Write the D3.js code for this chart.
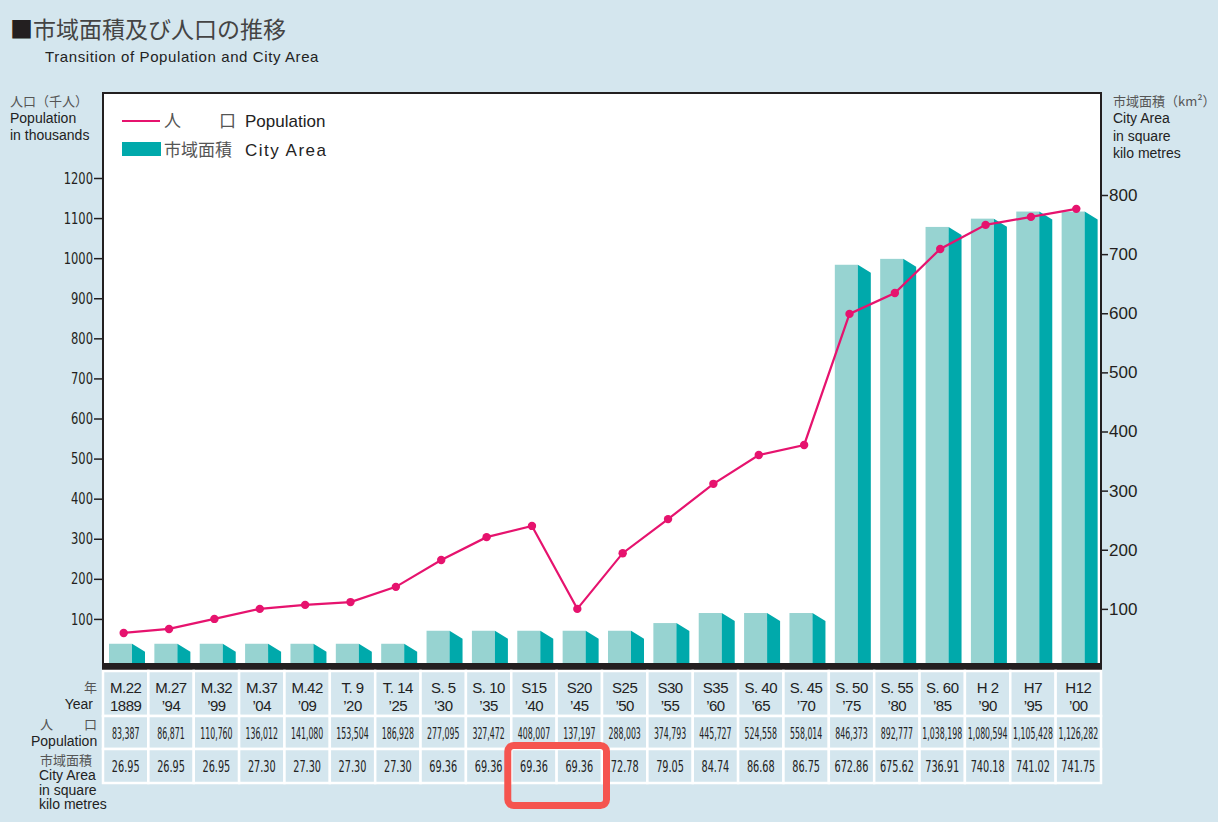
<!DOCTYPE html>
<html lang="ja">
<head>
<meta charset="utf-8">
<title>市域面積及び人口の推移</title>
<script src="https://cdn.jsdelivr.net/npm/d3@7"></script>
<style>
body { margin: 0; background: #d4e6ee; }
svg { display: block; }
.jp { font-family: "Noto Sans CJK JP", sans-serif; fill: #555; }
.en { font-family: "Liberation Sans", Arial, sans-serif; fill: #222; }
.narrow { font-family: "DejaVu Sans Condensed", "DejaVu Sans", sans-serif; fill: #222; }
</style>
</head>
<body>
<script>
// table labels
var eraLabels = ["M.22", "M.27", "M.32", "M.37", "M.42", "T. 9", "T. 14", "S. 5", "S. 10", "S15", "S20",
                 "S25", "S30", "S35", "S. 40", "S. 45", "S. 50", "S. 55", "S. 60", "H 2", "H7", "H12"];
var yearLabels = ["1889", "’94", "’99", "’04", "’09", "’20", "’25", "’30", "’35", "’40", "’45",
                  "’50", "’55", "’60", "’65", "’70", "’75", "’80", "’85", "’90", "’95", "’00"];
var popText = ["83,387", "86,871", "110,760", "136,012", "141,080", "153,504", "186,928", "277,095",
               "327,472", "408,007", "137,197", "288,003", "374,793", "445,727", "524,558", "558,014",
               "846,373", "892,777", "1,038,198", "1,080,594", "1,105,428", "1,126,282"];
var areaText = ["26.95", "26.95", "26.95", "27.30", "27.30", "27.30", "27.30", "69.36", "69.36", "69.36",
                "69.36", "72.78", "79.05", "84.74", "86.68", "86.75", "672.86", "675.62", "736.91",
                "740.18", "741.02", "741.75"];

// values as drawn in the chart
var popPlot = [65, 75, 100, 125, 135, 142, 180, 247, 304, 332, 125, 264, 349, 437, 509, 534,
               861, 913, 1023, 1083, 1103, 1123];
var areaPlot = [41, 41, 41, 41, 41, 41, 41, 63, 63, 63, 63, 63, 76, 93, 93, 93,
                682, 692, 746, 760, 772, 772];

var leftTicks = [100, 200, 300, 400, 500, 600, 700, 800, 900, 1000, 1100, 1200];
var rightTicks = [100, 200, 300, 400, 500, 600, 700, 800];

var width = 1218, height = 822;
var plot = {left: 103, right: 1101, top: 93, bottom: 663};

var svg = d3.select("body").append("svg")
    .attr("width", width)
    .attr("height", height);

svg.append("rect").attr("width", width).attr("height", height).attr("fill", "#d4e6ee");

var x = d3.scaleBand().domain(d3.range(eraLabels.length)).range([plot.left, plot.right]);
var yPop = d3.scaleLinear().domain([0, 1200]).range([659, 178]);
var yArea = d3.scaleLinear().domain([0, 800]).range([668, 195]);

// title
var title = svg.append("text").attr("x", 10).attr("y", 38).attr("class", "jp").style("font-size", "23px");
title.append("tspan").style("fill", "#231f20").text("■");
title.append("tspan").style("fill", "#444").text("市域面積及び人口の推移");
svg.append("text").attr("x", 45).attr("y", 62).attr("class", "en").style("font-size", "15px")
    .style("letter-spacing", "0.6px")
    .text("Transition of Population and City Area");

// axis titles
svg.append("text").attr("x", 10).attr("y", 106).attr("class", "jp").style("font-size", "13px").text("人口（千人）");
svg.append("text").attr("x", 10).attr("y", 123).attr("class", "en").style("font-size", "14px").text("Population");
svg.append("text").attr("x", 10).attr("y", 140).attr("class", "en").style("font-size", "14px").text("in thousands");

svg.append("text").attr("x", 1113).attr("y", 106).attr("class", "jp").style("font-size", "13px").text("市域面積（km²）");
svg.append("text").attr("x", 1113).attr("y", 123).attr("class", "en").style("font-size", "14px").text("City Area");
svg.append("text").attr("x", 1113).attr("y", 141).attr("class", "en").style("font-size", "14px").text("in square");
svg.append("text").attr("x", 1113).attr("y", 158).attr("class", "en").style("font-size", "14px").text("kilo metres");

// plot area
svg.append("rect")
    .attr("x", plot.left).attr("y", plot.top)
    .attr("width", plot.right - plot.left).attr("height", plot.bottom - plot.top + 4)
    .attr("fill", "#fff").attr("stroke", "#231f20").attr("stroke-width", 2);

// bars (front + shaded side)
var bars = svg.append("g");
bars.selectAll("rect.front")
    .data(areaPlot)
  .enter().append("rect")
    .attr("class", "front")
    .attr("x", function(d, i) { return x(i) + 6; })
    .attr("width", 23)
    .attr("y", function(d) { return yArea(d); })
    .attr("height", function(d) { return yArea(0) - yArea(d); })
    .attr("fill", "#97d3d1");
bars.selectAll("polygon.side")
    .data(areaPlot)
  .enter().append("polygon")
    .attr("class", "side")
    .attr("points", function(d, i) {
      var x0 = x(i) + 29, x1 = x(i) + 42, t = yArea(d), b = yArea(0);
      return [[x0, t], [x1, t + 8], [x1, b], [x0, b]].join(" ");
    })
    .attr("fill", "#00a9ab");

// thick base bar
svg.append("rect")
    .attr("x", plot.left - 1).attr("y", plot.bottom)
    .attr("width", plot.right - plot.left + 2).attr("height", 7)
    .attr("fill", "#231f20");

// population line
var line = d3.line()
    .x(function(d, i) { return x(i) + x.bandwidth() / 2 - 2; })
    .y(function(d) { return yPop(d); });
svg.append("path")
    .datum(popPlot)
    .attr("d", line)
    .attr("fill", "none")
    .attr("stroke", "#e6136e")
    .attr("stroke-width", 2.2);
svg.selectAll("circle.pt")
    .data(popPlot)
  .enter().append("circle")
    .attr("class", "pt")
    .attr("cx", function(d, i) { return x(i) + x.bandwidth() / 2 - 2; })
    .attr("cy", function(d) { return yPop(d); })
    .attr("r", 4.2)
    .attr("fill", "#e6136e");

// axes
var gL = svg.append("g")
    .attr("transform", "translate(" + plot.left + ",0)")
    .call(d3.axisLeft(yPop).tickValues(leftTicks).tickFormat(d3.format("d")).tickSize(9).tickPadding(1));
gL.select(".domain").remove();
gL.attr("font-family", "'DejaVu Sans Condensed', sans-serif")
  .attr("font-size", 16).attr("color", "#231f20");
gL.selectAll("line").attr("stroke-width", 1.5);
// squeeze the labels a bit, like the condensed face in the original
gL.selectAll("text").attr("x", -10 / 0.8).attr("transform", "scale(0.8,1)");

var gR = svg.append("g")
    .attr("transform", "translate(" + plot.right + ",0)")
    .call(d3.axisRight(yArea).tickValues(rightTicks).tickSize(7).tickPadding(1));
gR.select(".domain").remove();
gR.attr("font-family", "'Liberation Sans', Arial, sans-serif")
  .attr("font-size", 17).attr("color", "#231f20");
gR.selectAll("line").attr("stroke-width", 1.5);

// legend
svg.append("line").attr("x1", 122).attr("x2", 160).attr("y1", 121).attr("y2", 121)
    .attr("stroke", "#e6136e").attr("stroke-width", 2.2);
svg.append("text").attr("x", 164).attr("y", 127).attr("class", "jp").style("font-size", "17px").text("人");
svg.append("text").attr("x", 219).attr("y", 127).attr("class", "jp").style("font-size", "17px").text("口");
svg.append("text").attr("x", 245).attr("y", 127).attr("class", "en").style("font-size", "17px").text("Population");
svg.append("rect").attr("x", 122).attr("y", 142).attr("width", 39).attr("height", 14).attr("fill", "#00a9ab");
svg.append("text").attr("x", 164).attr("y", 156).attr("class", "jp").style("font-size", "17px").text("市域面積");
svg.append("text").attr("x", 245).attr("y", 156).attr("class", "en").style("font-size", "17px")
    .style("letter-spacing", "1.5px").text("City Area");

// data table
var rows = [{y0: 671, y1: 716}, {y0: 716, y1: 749}, {y0: 749, y1: 783}];
var table = svg.append("g");
rows.forEach(function(r) {
  table.selectAll(null)
      .data(eraLabels)
    .enter().append("rect")
      .attr("x", function(d, i) { return x(i); })
      .attr("y", r.y0)
      .attr("width", x.step())
      .attr("height", r.y1 - r.y0)
      .attr("fill", "#d4e6ee")
      .attr("stroke", "#fff")
      .attr("stroke-width", 2.5);
});

table.selectAll("text.era")
    .data(eraLabels)
  .enter().append("text")
    .attr("class", "en")
    .attr("x", function(d, i) { return x(i) + x.step() / 2; })
    .attr("y", 693)
    .attr("text-anchor", "middle")
    .style("font-size", "15px").style("letter-spacing", "-0.5px")
    .text(function(d) { return d; });
table.selectAll("text.yr")
    .data(yearLabels)
  .enter().append("text")
    .attr("class", "en")
    .attr("x", function(d, i) { return x(i) + x.step() / 2; })
    .attr("y", 711)
    .attr("text-anchor", "middle")
    .style("font-size", "15px").style("letter-spacing", "-0.5px")
    .text(function(d) { return d; });
table.selectAll("text.pop")
    .data(popText)
  .enter().append("text")
    .attr("class", "narrow")
    .attr("transform", function(d, i) { return "translate(" + (x(i) + x.step() / 2) + ",739) scale(0.58,1)"; })
    .attr("text-anchor", "middle")
    .style("font-size", "15px")
    .text(function(d) { return d; });
table.selectAll("text.area")
    .data(areaText)
  .enter().append("text")
    .attr("class", "narrow")
    .attr("transform", function(d, i) { return "translate(" + (x(i) + x.step() / 2) + ",772) scale(0.72,1)"; })
    .attr("text-anchor", "middle")
    .style("font-size", "15px")
    .text(function(d) { return d; });

// row headings
svg.append("text").attr("x", 97).attr("y", 692).attr("text-anchor", "end").attr("class", "jp").style("font-size", "13px").text("年");
svg.append("text").attr("x", 93).attr("y", 709).attr("text-anchor", "end").attr("class", "en").style("font-size", "14px").text("Year");
svg.append("text").attr("x", 40).attr("y", 729).attr("class", "jp").style("font-size", "13px").text("人");
svg.append("text").attr("x", 84).attr("y", 729).attr("class", "jp").style("font-size", "13px").text("口");
svg.append("text").attr("x", 31).attr("y", 746).attr("class", "en").style("font-size", "14px").text("Population");
svg.append("text").attr("x", 40).attr("y", 765).attr("class", "jp").style("font-size", "13px").text("市域面積");
svg.append("text").attr("x", 39).attr("y", 780).attr("class", "en").style("font-size", "14px").text("City Area");
svg.append("text").attr("x", 39).attr("y", 795).attr("class", "en").style("font-size", "14px").text("in square");
svg.append("text").attr("x", 39).attr("y", 809).attr("class", "en").style("font-size", "14px").text("kilo metres");

// highlight box over the S15 / S20 area cells
svg.append("rect")
    .attr("x", x(9) - 3.5).attr("y", 745.5)
    .attr("width", x.step() * 2 + 8).attr("height", 60)
    .attr("rx", 6)
    .attr("fill", "none")
    .attr("stroke", "#f5544f")
    .attr("stroke-width", 7);
</script>
</body>
</html>
